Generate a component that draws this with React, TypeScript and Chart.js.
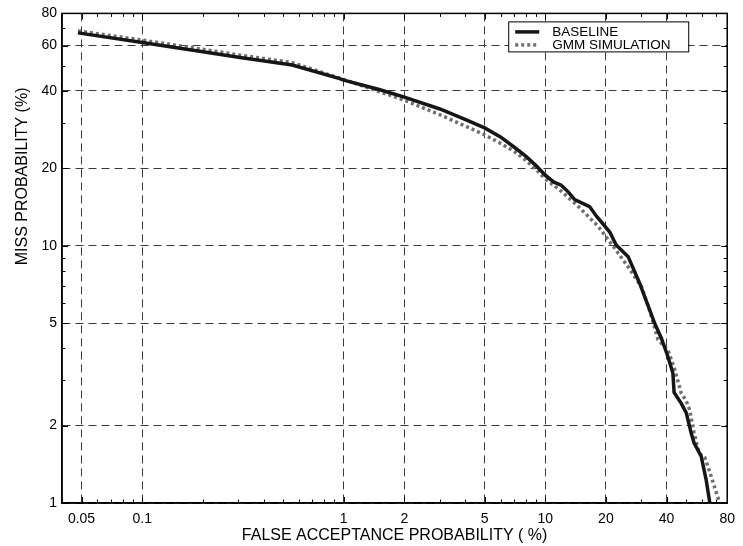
import React, { useEffect, useRef } from "react";
import { Chart, registerables } from "chart.js";

Chart.register(...registerables);

// Axis tick labels (percent)
const xTickValues = [0.05, 0.1, 1, 2, 5, 10, 20, 40, 80];
const yTickValues = [1, 2, 5, 10, 20, 40, 60, 80];

// BASELINE series: false acceptance (%) vs miss probability (%)
const baselineFA = [0.048, 0.1, 0.2, 0.3, 0.555, 0.945, 1, 1.5, 2, 3, 4, 5, 6, 7, 8, 9, 10, 11, 12, 13, 14, 16.6, 18, 20.9, 22.5, 25.8, 29.4, 34.9, 37.7, 40.6, 43, 43.6, 47.3, 50.1, 53, 54.8, 59.4, 62.9, 65.6];
const baselineMiss = [67.2, 61.7, 56.8, 54, 50.4, 44.7, 44, 40.5, 37.8, 34, 31, 28.7, 26.5, 24.2, 22.3, 20.5, 18.8, 17.7, 17.2, 16.2, 15.1, 14.2, 13, 11.3, 10.07, 9.07, 7.15, 5.0, 4.37, 3.71, 3.2, 2.69, 2.44, 2.24, 1.87, 1.71, 1.52, 1.23, 1.0];

// GMM SIMULATION series
const gmmFA = [0.048, 0.1, 0.2, 0.3, 0.555, 1, 2, 3, 4, 5, 6, 7, 8, 9, 10, 12, 14.6, 18.3, 22.1, 26, 30, 33, 36.3, 40.6, 44, 47.3, 50, 52.1, 54.8, 58.1, 62, 66.6, 70, 73.5];
const gmmMiss = [68.4, 63, 58, 55.2, 51.5, 44.3, 36.8, 32.3, 29.2, 27.0, 25, 23.3, 21.5, 19.8, 18.2, 16.3, 14.2, 11.9, 9.78, 8.2, 6.94, 5.6, 4.31, 3.94, 3.29, 2.67, 2.5, 2.3, 1.87, 1.56, 1.5, 1.27, 1.12, 1.0];

const seriesLabels = ["BASELINE", "GMM SIMULATION"];
const xTitle = "FALSE ACCEPTANCE PROBABILITY ( %)";
const yTitle = "MISS PROBABILITY (%)";

const FONT = "'Liberation Sans', Arial, sans-serif";

function minorValues(min: number, max: number): number[] {
  const out: number[] = [];
  for (let k = -3; k <= 2; k++) {
    for (let m = 1; m <= 9; m++) {
      const v = m * Math.pow(10, k);
      if (v >= min - 1e-9 && v <= max + 1e-9) out.push(v);
    }
  }
  return out;
}

const framePlugin = {
  id: "detFrame",
  afterDraw(chart: any) {
    const { ctx, chartArea } = chart;
    const { left, right, top, bottom } = chartArea;
    const xs = chart.scales.x;
    const ys = chart.scales.y;
    ctx.save();
    ctx.setLineDash([]);
    ctx.strokeStyle = "#000";
    ctx.lineWidth = 1;
    // inward ticks
    const xMin = minorValues(xs.min, xs.max);
    ctx.beginPath();
    for (const v of xMin) {
      const p = Math.round(xs.getPixelForValue(v)) + 0.5;
      const len = xTickValues.includes(v) ? 6 : 3.5;
      ctx.moveTo(p, bottom);
      ctx.lineTo(p, bottom - len);
      ctx.moveTo(p, top);
      ctx.lineTo(p, top + len);
    }
    const yMin = minorValues(ys.min, ys.max);
    for (const v of yMin) {
      const p = Math.round(ys.getPixelForValue(v)) + 0.5;
      const len = yTickValues.includes(v) ? 6 : 3.5;
      ctx.moveTo(left, p);
      ctx.lineTo(left + len, p);
      ctx.moveTo(right, p);
      ctx.lineTo(right - len, p);
    }
    ctx.stroke();
    // frame
    ctx.lineWidth = 1.5;
    ctx.strokeRect(left, top, right - left, bottom - top);

    // axis titles
    ctx.fillStyle = "#000";
    ctx.font = `16px ${FONT}`;
    ctx.textAlign = "center";
    ctx.textBaseline = "middle";
    ctx.fillText(xTitle, (left + right) / 2, bottom + 33);
    ctx.save();
    ctx.translate(23, top + 163);
    ctx.rotate(-Math.PI / 2);
    ctx.fillText(yTitle, 0, 0);
    ctx.restore();

    // legend
    const bx = right - 219;
    const by = top + 8;
    const bw = 180;
    const bh = 30;
    ctx.fillStyle = "#fff";
    ctx.fillRect(bx, by, bw, bh);
    ctx.lineWidth = 1;
    ctx.strokeStyle = "#000";
    ctx.strokeRect(bx + 0.5, by + 0.5, bw, bh);
    const ds = chart.data.datasets;
    const rows = [by + 10.5, by + 23.5];
    ds.forEach((d: any, i: number) => {
      ctx.save();
      ctx.strokeStyle = d.borderColor;
      ctx.lineWidth = d.borderWidth;
      ctx.setLineDash(d.borderDash || []);
      ctx.beginPath();
      ctx.moveTo(bx + 7, rows[i]);
      ctx.lineTo(bx + 31, rows[i]);
      ctx.stroke();
      ctx.restore();
      ctx.fillStyle = "#000";
      ctx.font = `13.5px ${FONT}`;
      ctx.textAlign = "left";
      ctx.textBaseline = "middle";
      ctx.fillText(seriesLabels[i], bx + 44, rows[i]);
    });
    ctx.restore();
  },
};

export default function App() {
  const canvasRef = useRef<HTMLCanvasElement>(null);

  useEffect(() => {
    document.body.style.margin = "0";
    const canvas = canvasRef.current;
    if (!canvas) return;
    const chart = new Chart(canvas, {
      type: "line",
      data: {
        datasets: [
          {
            label: seriesLabels[0],
            data: baselineFA.map((x, i) => ({ x, y: baselineMiss[i] })),
            borderColor: "#161616",
            borderWidth: 3.5,
            pointRadius: 0,
            tension: 0,
            fill: false,
          },
          {
            label: seriesLabels[1],
            data: gmmFA.map((x, i) => ({ x, y: gmmMiss[i] })),
            borderColor: "#6e6e6e",
            borderWidth: 3.5,
            borderDash: [3, 3],
            pointRadius: 0,
            tension: 0,
            fill: false,
          },
        ],
      },
      options: {
        animation: false,
        responsive: false,
        maintainAspectRatio: false,
        layout: { padding: { top: 13, right: 12, left: 0, bottom: 0 } },
        plugins: {
          legend: { display: false },
          tooltip: { enabled: false },
        },
        scales: {
          x: {
            type: "logarithmic",
            min: 0.04,
            max: 80,
            afterBuildTicks: (s: any) => {
              s.ticks = xTickValues.map((v) => ({ value: v }));
            },
            afterFit: (s: any) => {
              s.height = 43;
            },
            ticks: {
              callback: (v: any) => String(v),
              font: { family: FONT, size: 14 },
              color: "#000",
              padding: 8,
              maxRotation: 0,
              autoSkip: false,
            },
            grid: { color: "#3a3a3a", lineWidth: 1, drawTicks: false },
            border: { color: "#000", width: 1.5, dash: [8, 5] },
          },
          y: {
            type: "logarithmic",
            min: 1,
            max: 80,
            afterBuildTicks: (s: any) => {
              s.ticks = yTickValues.map((v) => ({ value: v }));
            },
            afterFit: (s: any) => {
              s.width = 62;
            },
            ticks: {
              callback: (v: any) => String(v),
              font: { family: FONT, size: 14 },
              color: "#000",
              padding: 5,
              autoSkip: false,
            },
            grid: { color: "#3a3a3a", lineWidth: 1, drawTicks: false },
            border: { color: "#000", width: 1.5, dash: [8, 5] },
          },
        },
      },
      plugins: [framePlugin],
    } as any);
    return () => chart.destroy();
  }, []);

  return (
    <div style={{ width: 743, height: 546 }}>
      <canvas ref={canvasRef} width={743} height={546} style={{ display: "block" }} />
    </div>
  );
}
